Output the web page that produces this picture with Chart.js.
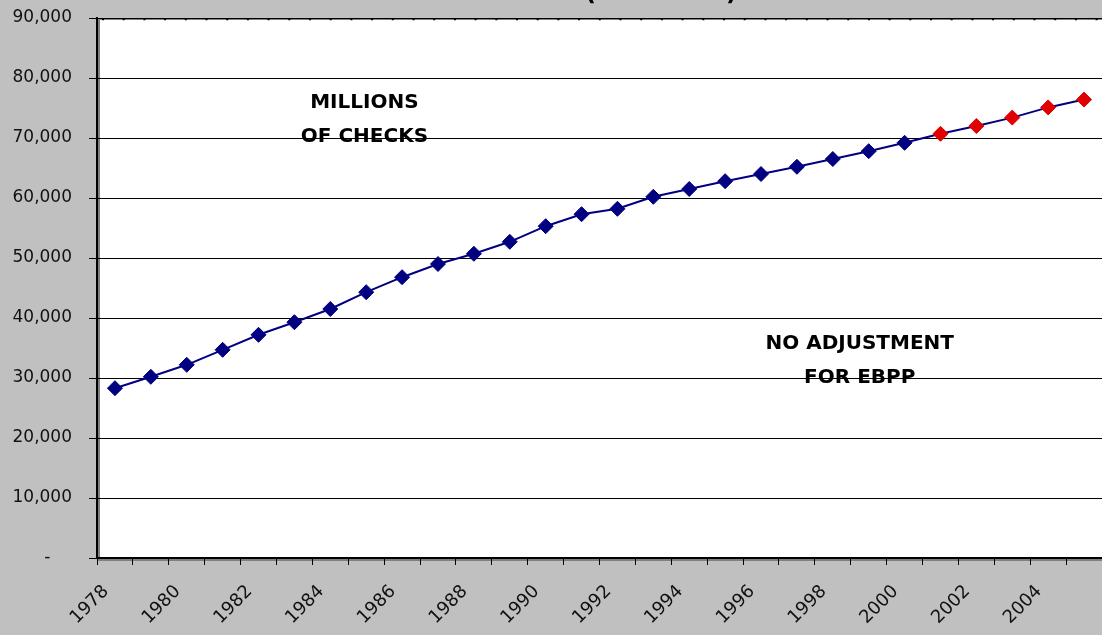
<!DOCTYPE html>
<html>
<head>
<meta charset="utf-8">
<script src="https://cdn.jsdelivr.net/npm/chart.js@4.4.1/dist/chart.umd.min.js"></script>
<style>
html,body{margin:0;padding:0;background:#c0c0c0;overflow:hidden;}
#wrap{width:1102px;height:635px;position:relative;}
canvas{display:block;}
</style>
</head>
<body>
<div id="wrap"><canvas id="c"></canvas></div>
<script>
// ─── Data ───
const YEARS = [1978,1979,1980,1981,1982,1983,1984,1985,1986,1987,1988,1989,1990,1991,
               1992,1993,1994,1995,1996,1997,1998,1999,2000,2001,2002,2003,2004,2005];
const CHECKS = [28300,30200,32200,34700,37200,39300,41500,44300,46800,49000,50700,52700,55300,57300,
                58200,60200,61500,62800,64000,65200,66500,67800,69200,70700,72000,73400,75100,76400];
const FORECAST_FROM = 2001;
const NOTES = [
    {lines:['MILLIONS','OF CHECKS'], year:1984.95, value:[75800,70200]},
    {lines:['NO ADJUSTMENT','FOR EBPP'], year:1998.75, value:[35700,30100]}
];

const NAVY='#000080', RED='#e00000';
const pointColors = YEARS.map(y => y>=FORECAST_FROM ? RED : NAVY);

Chart.defaults.font.family="'DejaVu Sans', sans-serif";
Chart.defaults.color='#111';

// ─── Plot-area frame + notes ───
const framePlugin = {
    id:'frame',
    beforeDraw(chart){
        const {ctx, chartArea:a} = chart;
        ctx.save();
        ctx.fillStyle='#fff';
        ctx.fillRect(a.left, a.top, a.right-a.left, a.bottom-a.top);
        // shadows
        ctx.fillStyle='#808080';
        ctx.fillRect(a.left, a.top, 3, a.bottom-a.top);
        ctx.fillRect(a.left, a.bottom, a.right-a.left, 3);
        ctx.fillRect(a.left, a.top, a.right-a.left, 2);
        // dotted top edge
        ctx.strokeStyle='#000'; ctx.lineWidth=1.5;
        ctx.setLineDash([2,18.7]);
        ctx.beginPath(); ctx.moveTo(a.left+5, a.top+1.5); ctx.lineTo(a.right, a.top+1.5); ctx.stroke();
        ctx.setLineDash([]);
        // clipped title remnant
        ctx.fillStyle='#000';
        ctx.font="bold 24px 'DejaVu Sans', sans-serif";
        ctx.textAlign='center'; ctx.textBaseline='alphabetic';
        ctx.fillText('(MILLIONS)', 661, 0);
        ctx.restore();
    },
    beforeDatasetsDraw(chart){
        const {ctx, scales:{x,y}} = chart;
        ctx.save();
        ctx.fillStyle='#000';
        ctx.font="bold 20px 'DejaVu Sans', sans-serif";
        ctx.textAlign='center'; ctx.textBaseline='middle';
        const step = x.getPixelForValue(1)-x.getPixelForValue(0);
        NOTES.forEach(n=>{
            const i = n.year - YEARS[0];
            const px = x.getPixelForValue(0) + i*step;
            n.lines.forEach((t,k)=>ctx.fillText(t, px, y.getPixelForValue(n.value[k])));
        });
        ctx.restore();
    }
};

new Chart(document.getElementById('c'),{
    type:'line',
    data:{
        labels:YEARS.map(String),
        datasets:[{
            data:CHECKS,
            borderColor:NAVY, borderWidth:2,
            pointStyle:'rectRot', pointRadius:7.5, pointHoverRadius:7.5,
            pointBackgroundColor:pointColors, pointBorderColor:pointColors, pointBorderWidth:1,
            tension:0
        }]
    },
    options:{
        responsive:true, maintainAspectRatio:false, animation:false,
        layout:{autoPadding:false, padding:{top:18,right:0,left:0,bottom:0}},
        plugins:{legend:{display:false}, tooltip:{enabled:false}},
        scales:{
            x:{
                offset:true,
                afterFit(s){s.height=77; s.paddingRight=0; s.paddingLeft=0;},
                grid:{offset:true, drawOnChartArea:false, drawTicks:true, tickLength:7, color:'#000', lineWidth:1},
                border:{color:'#000', width:2},
                ticks:{autoSkip:false, maxRotation:45, minRotation:45, padding:16, labelOffset:-9,
                    font:{size:18},
                    callback:(v,i)=> i%2===0 ? YEARS[i] : ''}
            },
            y:{
                min:0, max:90000,
                afterFit(s){s.width=97; s.paddingTop=0; s.paddingBottom=0;},
                grid:{color:'#000', lineWidth:1, tickLength:8, drawTicks:true},
                border:{color:'#000', width:2},
                ticks:{stepSize:10000, padding:17, font:{size:17},
                    callback:v=> v===0 ? '-    ' : v.toLocaleString('en-US')}
            }
        }
    },
    plugins:[framePlugin]
});
</script>
</body>
</html>
